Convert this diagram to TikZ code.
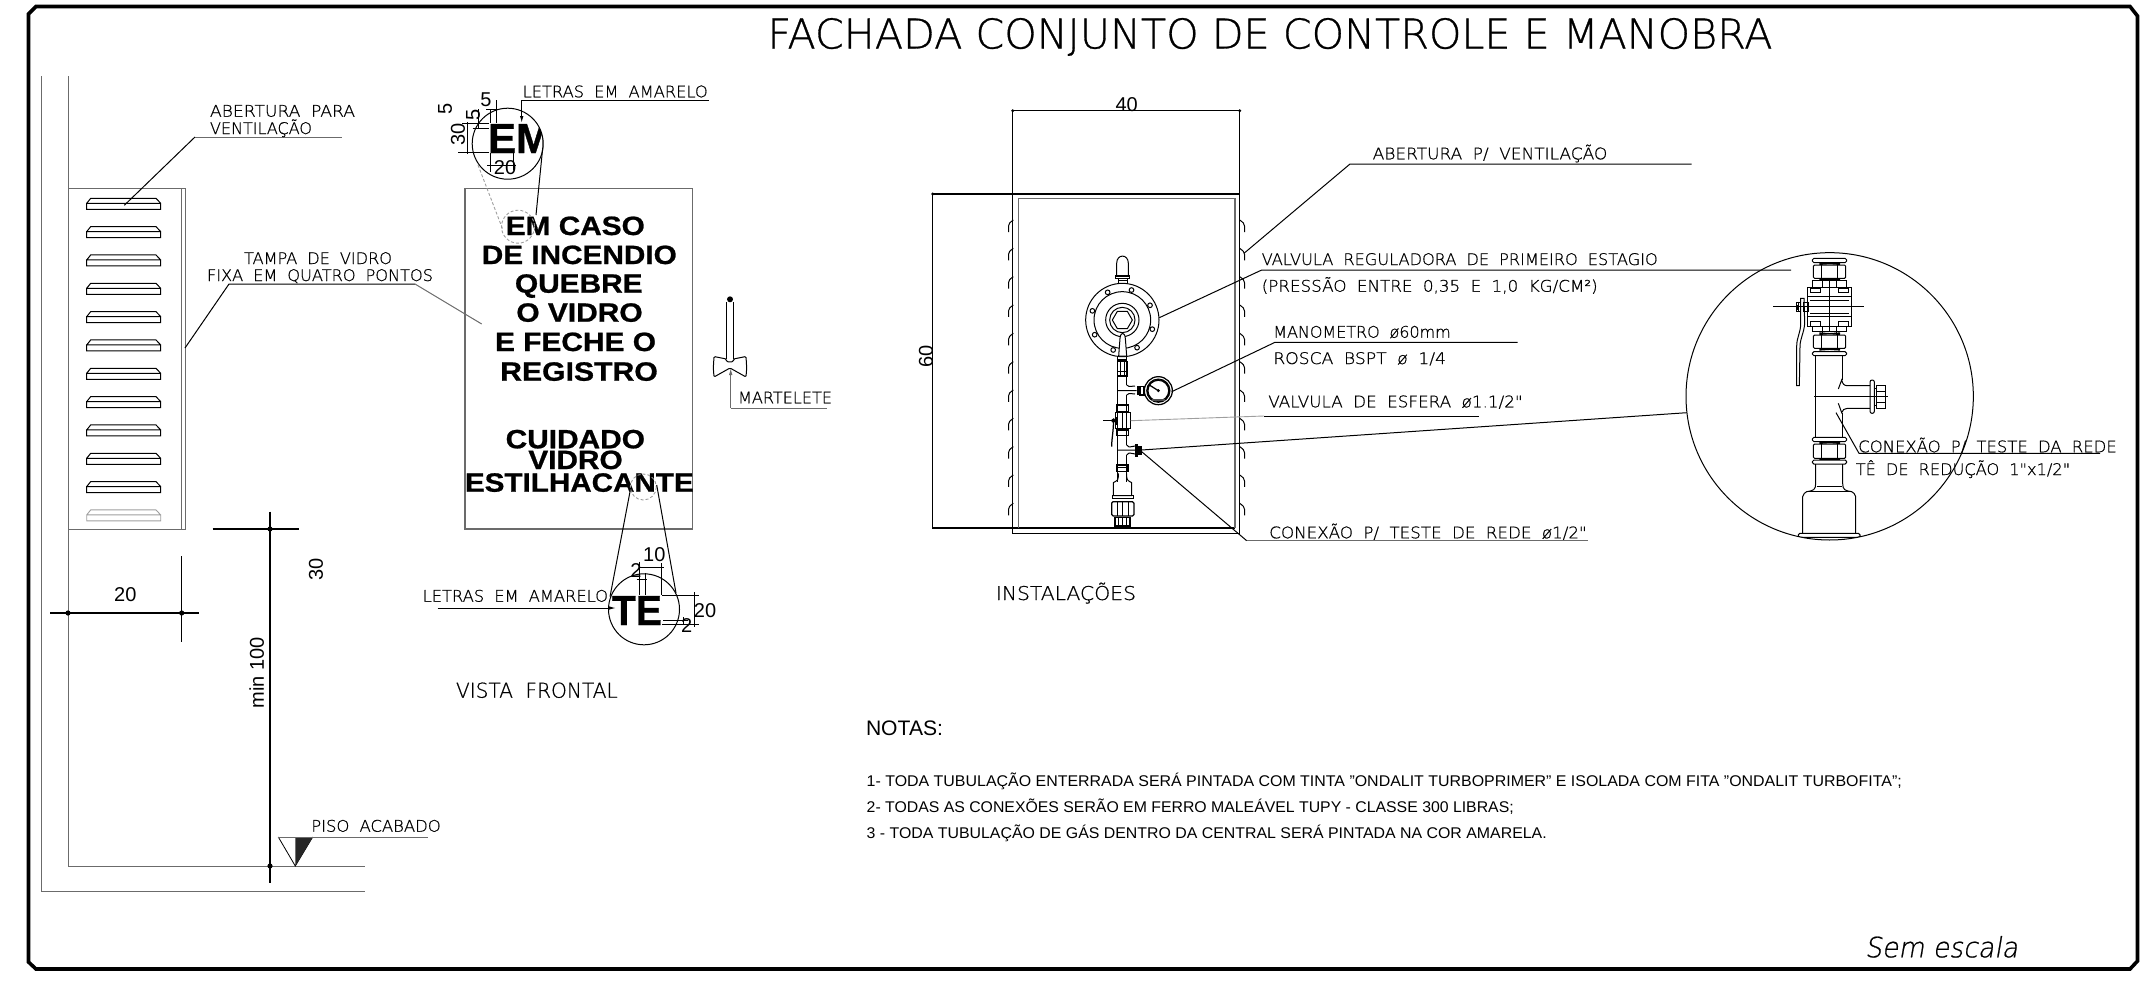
\documentclass[tikz,border=0pt]{standalone}
\usepackage{fontspec}
\usepackage{graphicx}
\setmainfont{Liberation Sans}
\newfontfamily\cadf[FakeBold=0.7]{DejaVu Sans ExtraLight}
\newfontfamily\cadit[FakeSlant=0.18,FakeBold=0.7]{DejaVu Sans ExtraLight}
\newfontfamily\signf[FakeBold=0.8]{Liberation Sans Bold}
\usetikzlibrary{arrows.meta}
\definecolor{lg}{gray}{0.42}
\definecolor{llg}{gray}{0.62}
\tikzset{
  ln/.style={line width=1pt,black},
  dk/.style={line width=1.25pt,black},
  gl/.style={line width=1pt,lg},
  lgl/.style={line width=0.9pt,llg},
  frame/.style={line width=3.6pt,black,line join=miter},
  fine/.style={line width=0.8pt,black},
  txt/.style={inner sep=0pt,outer sep=0pt,black},
  tip/.style={-{Latex[length=7pt,width=3.5pt]}},
}
% name, x, baseline y, font size, width, text
\newcommand{\cadlbl}[6]{\node[txt,anchor=base west] (#1) at (#2,#3) {\resizebox{#5pt}{\height}{\fontsize{#4pt}{#4pt}\cadf\spaceskip=0.62em #6}};}
\newcommand{\signl}[5]{\node[txt,anchor=base] (#1) at (#2,#3) {\resizebox{\dimexpr#4pt+2pt\relax}{\height}{\fontsize{26.5pt}{26.5pt}\signf #5}};}
\newcommand{\numlbl}[5]{\node[txt,rotate=#4,anchor=center] (#1) at (#2,#3) {\fontsize{20pt}{20pt}\selectfont #5};}
\newcommand{\dimdot}[2]{\fill (#1,#2) circle[radius=2.6pt];}
\newcommand{\noteln}[5]{\node[txt,anchor=base west] (#1) at (#2,#3) {\resizebox{#4pt}{\height}{\fontsize{15.5pt}{15.5pt}\selectfont #5}};}
% rounded flange bar / nut inside scoped coordinates
\newcommand{\flbar}[4]{\draw[ln,rounded corners=1.6pt,fill=white] (#1,#2) rectangle (#3,#4);}
\newcommand{\nutd}[4]{\draw[ln,rounded corners=1.2pt,fill=white] (#1,#2) rectangle (#3,#4);
  \draw[ln] ({#1+(#3-#1)*0.26},#2) -- ({#1+(#3-#1)*0.26},#4) ({#1+(#3-#1)*0.74},#2) -- ({#1+(#3-#1)*0.74},#4);}
\begin{document}
\begin{tikzpicture}[x=1pt,y=-1pt]
\useasboundingbox (0,0) rectangle (2141,993);
% frame
\draw[frame] (36,6.5) -- (2130,6.5) -- (2137.5,16) -- (2137.5,961) -- (2130,969) -- (36,969) -- (28.5,962) -- (28.5,14) -- cycle;
\node[txt,anchor=base west] (title) at (767.5,48.5) {\resizebox{1005pt}{\height}{\fontsize{41pt}{41pt}\cadf FACHADA CONJUNTO DE CONTROLE E MANOBRA}};
\node[txt,anchor=base west] (sem) at (1865,957.3) {\resizebox{153pt}{\height}{\fontsize{28pt}{28pt}\cadit Sem escala}};

% ---------- lateral view
\draw[gl] (41.7,76) -- (41.7,891) -- (365,891);
\draw[gl] (68,76) -- (68,866) -- (365,866);
\draw[gl] (68,188.3) -- (185,188.3) -- (185,529) -- (68,529);
\draw[gl] (181.7,188.3) -- (181.7,529);
\foreach \i in {0,...,10}{
  \draw[ln,shift={(0,{198.3+28.33*\i})}] (86.7,5) -- (160.7,5) -- (160.7,11) -- (86.7,11) -- cycle (86.7,5) -- (90.7,0) -- (156,0) -- (160.7,5);
}
\draw[lgl,shift={(0,{198.3+28.33*11})}] (86.7,5) -- (160.7,5) -- (160.7,11) -- (86.7,11) -- cycle (86.7,5) -- (90.7,0) -- (156,0) -- (160.7,5);
\draw[ln] (124.3,205.3) -- (195,137);
\draw[gl] (195,137) -- (341.7,137);
\cadlbl{abpara}{210}{116.7}{16}{145}{ABERTURA PARA}
\cadlbl{abvent}{210}{134}{16}{102}{VENTILAÇÃO}
\cadlbl{tampa}{244}{264}{16}{148}{TAMPA DE VIDRO}
\cadlbl{fixa}{207}{281}{16}{226}{FIXA EM QUATRO PONTOS}
\draw[ln] (185,348) -- (229,284) -- (415,284);
\draw[gl] (415,284) -- (481.7,324);
% dimensions
\draw[dk] (212.7,529) -- (298.7,529) (270,511.7) -- (270,883);
\dimdot{270}{529}\dimdot{270}{866}
\numlbl{d30}{316}{569}{90}{30}
\numlbl{dmin}{256.7}{673}{90}{min 100}
\draw[dk] (50,613) -- (199,613) (181.7,556) -- (181.7,641.7);
\dimdot{68}{613}\dimdot{181.7}{613}
\numlbl{d20}{125.3}{595}{0}{20}
% floor mark
\draw[fine] (278.3,837) -- (295.3,866) -- (312.7,837);
\fill[black!85] (295.3,837) -- (312.7,837) -- (295.3,866) -- cycle;
\draw[gl] (278.3,837) -- (427.7,837);
\cadlbl{piso}{311.3}{831.7}{16}{129.4}{PISO ACABADO}

% ---------- front sign
\draw[gl,line width=1.1pt] (465,188.3) rectangle (692.3,529);
\signl{s1}{575.3}{235}{137}{EM CASO}
\signl{s2}{579.3}{264}{193}{DE INCENDIO}
\signl{s3}{578.8}{292.7}{125.7}{QUEBRE}
\signl{s4}{579.5}{321.7}{124.3}{O VIDRO}
\signl{s5}{575.5}{351}{159}{E FECHE O}
\signl{s6}{579}{380.7}{155.6}{REGISTRO}
\signl{s7}{575.3}{448.3}{137.3}{CUIDADO}
\signl{s8}{575.5}{469}{92.3}{VIDRO}
\signl{s9}{579.3}{491.7}{226.7}{ESTILHACANTE}
% EM detail
\begin{scope}
\clip (507.7,143.7) circle (35.5);
\node[txt,anchor=base west] (em) at (488,153) {\fontsize{42pt}{42pt}\signf EM};
\end{scope}
\draw[ln] (507.7,143.7) circle (35.5);
\draw[ln] (467,122) -- (467,154) (462,123) -- (489,123) (458,152) -- (489,152) (472.7,128) -- (489,128) (478,109) -- (478,128);
\draw[ln] (490,109) -- (490,123) (496,100) -- (496,123) (486,109) -- (499,109);
\draw[ln] (490,153) -- (490,172) (513,153) -- (513,170) (487,165) -- (516,165);
\numlbl{e5a}{445}{109}{90}{5}
\numlbl{e5b}{486}{100}{0}{5}
\numlbl{e5c}{473}{115}{90}{5}
\numlbl{e30}{458}{134}{90}{30}
\numlbl{e20}{505}{168}{0}{20}
\draw[ln,tip] (521.7,100.3) -- (521.7,123);
\draw[ln] (521.7,100.3) -- (709,100.3);
\cadlbl{letra}{522.7}{97.3}{16}{185}{LETRAS EM AMARELO}
\draw[ln] (542.7,148) -- (536,215);
\draw[lgl,densely dashed] (478,165) -- (503,230);
\draw[lgl,densely dashed] (518,226.7) circle (16.5);
% TE detail
\draw[lgl,densely dashed] (643.3,487) circle (13);
\draw[ln] (630,491.7) -- (610,596.7) (656.7,485) -- (676,593);
\node[txt,anchor=base west] (te) at (612,625) {\resizebox{50pt}{\height}{\fontsize{42pt}{42pt}\signf TE}};
\draw[ln] (644,609.3) circle (35.5);
\draw[ln] (639,567.7) -- (664,567.7) (639.3,561.7) -- (639.3,595) (661.7,563) -- (661.7,595) (645,573) -- (645,595) (636.7,579) -- (647,579);
\draw[ln] (662,595) -- (699,595) (662,624) -- (699,624) (694,592) -- (694,627) (663,620) -- (688,620) (683,617) -- (683,624);
\numlbl{t10}{654.3}{555}{0}{10}
\numlbl{t2a}{636}{570.7}{0}{2}
\numlbl{t20}{705}{611}{0}{20}
\numlbl{t2b}{686.7}{625.7}{0}{2}
\cadlbl{letrb}{422.7}{601.7}{16}{185.3}{LETRAS EM AMARELO}
\draw[ln,tip] (437.7,608) -- (616,608);
\cadlbl{vista}{456}{697.7}{20.5}{161.7}{VISTA FRONTAL}
% hammer
\fill (730,299.3) circle[radius=3pt];
\draw[ln] (726.3,359) -- (726.3,302) (733.5,302) -- (733.5,359);
\draw[ln,rounded corners=1.2pt] (726.3,359) -- (714,356.5) -- (713.3,368) -- (714,377) -- (730,368) -- (746,377) -- (746.7,368) -- (746,356.5) -- (733.5,359) -- (733.5,361.5) -- (730,362) -- (726.3,361.5) -- cycle;
\draw[gl,tip] (730.7,408) -- (730.7,368);
\draw[gl] (730.7,408) -- (826.7,408);
\cadlbl{mart}{738}{403.3}{16}{94}{MARTELETE}

% ---------- installation front
\draw[dk] (1012.7,110.7) -- (1240,110.7);
\draw[dk] (1012.7,110.7) -- (1012.7,533.3) -- (1239.7,533.3) -- (1239.7,110.7);
\draw[dk] (932.7,194) -- (1239.7,194);
\draw[dk] (932.7,194) -- (932.7,528) -- (1235,528);
\fill (1012.7,110.7) circle[radius=1.6pt] (1239.7,110.7) circle[radius=1.6pt] (932.7,194) circle[radius=1.6pt];
\draw[gl,line width=1.3pt] (1018.3,528.3) -- (1018.3,198.3) -- (1235,198.3) -- (1235,528.3);
\numlbl{i40}{1126.7}{104.3}{0}{40}
\numlbl{i60}{926}{356.7}{90}{60}
\foreach \i in {0,...,10}{
  \draw[ln,shift={(0,{220+28.33*\i})}] (1013.3,0) .. controls (1010,2.5) and (1008.5,3.5) .. (1008.5,6) -- (1008.5,12);
  \draw[ln,shift={(0,{220+28.33*\i})}] (1239.7,0) .. controls (1243,2.5) and (1244.5,3.5) .. (1244.5,6) -- (1244.5,12);
}
\begin{scope}[shift={(1000,230)},x=0.33333pt,y=-0.33333pt]
  % pipe
  \draw[ln] (353,375) -- (353,755) (380,375) -- (380,465) (380,495) -- (380,645) (380,675) -- (380,755);
  % dome
  \draw[ln] (350,138) -- (350,100) .. controls (350,71) and (385,71) .. (385,100) -- (385,138);
  \draw[dk] (347,138) rectangle (388,145);
  \draw[ln] (355,145) rectangle (382,160);
  \draw[dk] (355,152) -- (382,152);
  % regulator
  \draw[ln,fill=white] (367,270) circle (110);
  \draw[ln] (367,270) circle (85) circle (50) circle (38);
  \draw[ln,shift={(367,270)}] (0:30) -- (60:30) -- (120:30) -- (180:30) -- (240:30) -- (300:30) -- cycle;
  \foreach \a in {-118,-73,-28,17,62,107,152,197}{
    \draw[ln,shift={(367,270)}] (\a:94) circle (7);
  }
  \draw[ln,fill=white] (356,378) -- (360,325) .. controls (362,305) and (374,305) .. (376,325) -- (380,378) -- cycle;
  \draw[dk] (353,390) -- (382,390) (353,395) -- (382,395) (353,437) -- (382,437) (353,425) -- (382,425);
  \draw[ln] (352,395) rectangle (382,440) (362,395) -- (362,440) (372,395) -- (372,440);
  % tee and gauge
  \draw[ln] (380,465) .. controls (385,470) .. (405,468) (380,495) .. controls (385,490) .. (405,492) (353,482) -- (410,482);
  \fill (412,468) rectangle (418,495);
  \draw[dk] (420,470) rectangle (432,495);
  \draw[dk] (475,482) circle (42);
  \draw[ln] (475,482) circle (35) circle (31);
  \draw[dk] (448,465) -- (475,482);
  \fill (475,482) circle (5);
  \fill[black!70] (455,508) rectangle (495,514);
  % ball valve
  \draw[dk] (350,525) rectangle (385,545);
  \draw[ln] (345,548) rectangle (392,595) (368,548) -- (368,595);
  \fill (345,560) rectangle (352,585);
  \draw[dk] (350,600) rectangle (385,617);
  \draw[dk] (335,650) .. controls (335,625) and (340,610) .. (341,565);
  \draw[dk] (310,572) -- (345,572);
  \fill (340,572) circle (6);
  % lower tee
  \draw[ln] (380,645) .. controls (385,652) .. (405,648) (380,675) .. controls (385,668) .. (405,672) (353,660) -- (412,660);
  \draw[dk] (408,645) rectangle (413,678);
  \fill (414,648) rectangle (426,674);
  % bottom fittings
  \draw[dk] (351,705) rectangle (384,725);
  \draw[dk] (353,712) -- (384,712);
  \draw[ln] (355,730) .. controls (355,750) .. (340,758) -- (340,797) -- (395,797) -- (395,758) .. controls (380,750) .. (380,730);
  \draw[dk] (337,797) rectangle (400,805);
  \draw[dk,rounded corners=1.5pt] (335,815) rectangle (402,858);
  \draw[ln] (352,815) -- (352,858) (368,815) -- (368,858) (385,815) -- (385,858);
  \draw[dk] (345,862) rectangle (390,888);
  \draw[ln] (356,862) -- (356,888) (368,862) -- (368,888) (380,862) -- (380,888);
\end{scope}
% leaders
\draw[ln] (1244,253.3) -- (1350,164) -- (1691.7,164);
\cadlbl{abp}{1372.7}{159.3}{16}{234.6}{ABERTURA P/ VENTILAÇÃO}
\draw[ln] (1159.3,317.7) -- (1261.7,270) -- (1791,270);
\cadlbl{valreg}{1261.7}{265}{16}{396}{VALVULA REGULADORA DE PRIMEIRO ESTAGIO}
\cadlbl{press}{1261.7}{291.7}{16}{336}{(PRESSÃO ENTRE 0,35 E 1,0 KG/CM²)}
\draw[ln] (1171.7,391.7) -- (1275,342.3) -- (1517.7,342.3);
\cadlbl{mano}{1273.3}{337.7}{16}{177.4}{MANOMETRO ø60mm}
\cadlbl{rosca}{1273.3}{364}{16}{172.7}{ROSCA BSPT ø 1/4}
\draw[lgl] (1130.7,420.7) -- (1264,416);
\draw[ln] (1264,416) -- (1478.7,416);
\cadlbl{valesf}{1268.3}{407.3}{16}{254.4}{VALVULA DE ESFERA ø1.1/2"}
\draw[ln] (1141.7,450) -- (1686.7,412.7);
\draw[ln] (1141.7,451.7) -- (1246.7,540.7);
\draw[gl] (1246.7,540.7) -- (1588.3,540.7);
\cadlbl{conx}{1269.3}{538.3}{16}{317.4}{CONEXÃO P/ TESTE DE REDE ø1/2"}
\cadlbl{inst}{995.8}{600}{19}{140.2}{INSTALAÇÕES}

% ---------- detail circle
\begin{scope}[shift={(1680,240)},x=0.33333pt,y=-0.33333pt]
  \begin{scope}
  \clip (449,469) circle (431);
  % flanged cap
  \flbar{397}{55}{500}{68}
  \draw[dk] (418,69) -- (480,73) (418,73) -- (480,69);
  \nutd{400}{75}{497}{115}
  \draw[dk] (418,116) -- (480,120) (418,120) -- (480,116);
  % valve
  \draw[ln] (397,122) rectangle (500,142);
  \draw[ln] (428,122) -- (428,310) (470,122) -- (470,310);
  \draw[ln,fill=white] (382,142) rectangle (515,258);
  \draw[ln] (382,170) -- (515,170) (382,230) -- (515,230) (390,180) -- (507,180) (390,220) -- (507,220) (448,122) -- (448,275);
  \draw[ln] (392,145) rectangle (422,158) (475,145) rectangle (505,158) (392,245) rectangle (422,258) (475,245) rectangle (505,258);
  \draw[ln] (397,258) rectangle (500,275);
  \draw[ln] (280,200) -- (553,200);
  % handle
  \draw[ln] (348,188) rectangle (362,215) (370,188) rectangle (384,215);
  \fill (352,195) rectangle (358,210);
  \draw[ln] (355,185) -- (355,215);
  \draw[ln] (362,175) -- (372,175) -- (374,250) .. controls (372,280) and (360,295) .. (360,320) -- (358,437) -- (350,437) -- (350,320) .. controls (350,290) and (362,280) .. (362,250) -- cycle;
  % lower nut
  \draw[dk] (418,279) -- (480,283) (418,283) -- (480,279);
  \nutd{400}{285}{497}{325}
  \draw[dk] (418,326) -- (480,330) (418,330) -- (480,326);
  \flbar{397}{335}{500}{347}
  % tee
  \draw[ln] (407,347) -- (407,592);
  \draw[ln] (488,347) -- (488,420) (488,520) -- (488,592);
  \draw[ln] (475,447) -- (485,420) .. controls (488,432) and (492,437) .. (502,437) -- (570,437);
  \draw[ln] (475,490) -- (485,518) .. controls (488,510) and (492,505) .. (502,505) -- (570,505);
  \draw[ln,rounded corners=2pt] (570,420) rectangle (583,520);
  \draw[dk] (590,437) rectangle (617,505);
  \draw[ln] (590,455) -- (617,455) (590,487) -- (617,487) (583,445) -- (590,445) (583,497) -- (590,497);
  \draw[ln] (403,468) -- (623,468);
  % under tee
  \flbar{397}{592}{500}{605}
  \draw[dk] (418,606) -- (480,610) (418,610) -- (480,606);
  \nutd{400}{612}{497}{655}
  \draw[dk] (418,656) -- (480,660) (418,660) -- (480,656);
  \flbar{397}{660}{500}{672}
  \draw[ln] (407,672) -- (407,730) .. controls (407,750) and (400,752) .. (380,755) .. controls (372,760) .. (368,770) -- (368,880);
  \draw[ln] (488,672) -- (488,730) .. controls (488,750) and (495,752) .. (515,755) .. controls (523,760) .. (527,770) -- (527,880);
  \draw[ln] (380,755) -- (515,755) (410,738) -- (485,738);
  \draw[ln,rounded corners=1.5pt] (355,880) rectangle (540,892);
  \end{scope}
  \draw[ln] (449,469) circle (431);
  \draw[ln] (468,518) -- (537,640) -- (1260,640);
\end{scope}
\cadlbl{cdet}{1858.3}{452.3}{16}{258.4}{CONEXÃO P/ TESTE DA REDE}
\cadlbl{tdet}{1855.7}{475}{16}{214.4}{TÊ DE REDUÇÃO 1"x1/2"}

% ---------- notes
\node[txt,anchor=base west] (notas) at (866,735.7) {\resizebox{77pt}{\height}{\fontsize{21pt}{21pt}\selectfont NOTAS:}};
\noteln{n1}{866.7}{786.7}{1035}{1- TODA TUBULAÇÃO ENTERRADA SERÁ PINTADA COM TINTA "ONDALIT TURBOPRIMER" E ISOLADA COM FITA "ONDALIT TURBOFITA";}
\noteln{n2}{866.7}{812.3}{647}{2- TODAS AS CONEXÕES SERÃO EM FERRO MALEÁVEL TUPY - CLASSE 300 LIBRAS;}
\noteln{n3}{866.7}{838.3}{680}{3 - TODA TUBULAÇÃO DE GÁS DENTRO DA CENTRAL SERÁ PINTADA NA COR AMARELA.}
\end{tikzpicture}
\end{document}
